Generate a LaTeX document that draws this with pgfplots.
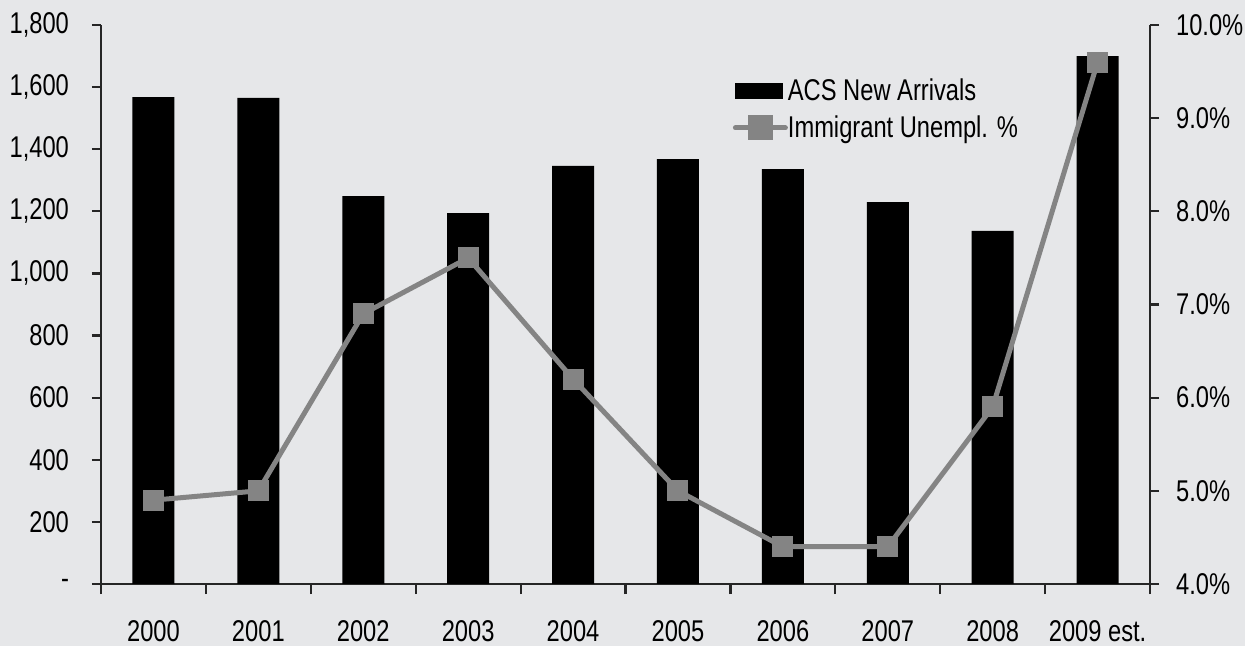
\documentclass[border=0pt]{standalone}
\usepackage{pgfplots}
\pgfplotsset{compat=1.18}
\usepackage{fontspec}
\setmainfont{Liberation Sans}[FakeStretch=0.79]
\definecolor{bg}{HTML}{E6E7E9}
\definecolor{linegray}{HTML}{848484}
\begin{document}
\begin{tikzpicture}
\useasboundingbox (0,0) rectangle (622.5pt,323pt);
\fill[bg] (0,0) rectangle (622.5pt,323pt);
% bars: new arrivals (thousands), left axis
\begin{axis}[
  at={(50.5pt,31pt)}, anchor=south west,
  scale only axis, width=524.5pt, height=279.5pt,
  xmin=-0.5, xmax=9.5, ymin=0, ymax=1800,
  axis x line*=bottom, axis y line*=left,
  axis line style={line width=1.1pt, color=black!85},
  every tick/.style={line width=1.1pt, color=black!85},
  tick align=outside,
  major tick length=4.5pt,
  xtick={0,...,9},
  xticklabels={2000,2001,2002,2003,2004,2005,2006,2007,2008,2009 est.},
  major x tick style={draw=none},
  minor xtick={-0.5,0.5,...,9.5},
  minor tick length=5pt,
  ytick={0,200,...,1800},
  yticklabels={-,200,400,600,800,{1,000},{1,200},{1,400},{1,600},{1,800}},
  ticklabel style={font=\fontsize{15pt}{17pt}\selectfont},
  xticklabel style={yshift=-10pt},
  yticklabel style={xshift=-8pt},
  ybar, bar width=21pt,
]
\addplot[fill=black, draw=none] coordinates {
  (0,1568) (1,1565) (2,1249) (3,1194) (4,1346)
  (5,1368) (6,1336) (7,1230) (8,1137) (9,1700)
};
\end{axis}
% line: immigrant unemployment rate, right axis
\begin{axis}[
  at={(50.5pt,31pt)}, anchor=south west,
  scale only axis, width=524.5pt, height=279.5pt,
  xmin=-0.5, xmax=9.5, ymin=4, ymax=10,
  axis x line=none, axis y line*=right,
  axis line style={line width=1.1pt, color=black!85},
  every tick/.style={line width=1.1pt, color=black!85},
  tick align=outside, major tick length=4.5pt,
  ytick={4,5,...,10},
  yticklabels={4.0\%,5.0\%,6.0\%,7.0\%,8.0\%,9.0\%,10.0\%},
  ticklabel style={font=\fontsize{15pt}{17pt}\selectfont},
  yticklabel style={xshift=5pt},
  legend style={draw=none, fill=none, at={(0.602,0.908)}, anchor=north west,
    font=\fontsize{15pt}{17pt}\selectfont, row sep=4pt,
    inner sep=0pt, nodes={inner ysep=1pt, inner xsep=0pt}},
  legend cell align=left,
]
\addlegendimage{legend image code/.code={
  \fill[black] (0pt,-3.8pt) rectangle (23.5pt,3.8pt);}}
\addlegendentry{ACS New Arrivals}
\addplot[color=linegray, line width=2.5pt, mark=square*,
  mark size=4pt, mark options={fill=linegray, draw=none},
  legend image code/.code={
    \draw[linegray, line width=2.5pt, line cap=round] (0pt,0pt) -- (25pt,0pt);
    \fill[linegray] (7.5pt,-5pt) rectangle (17.5pt,5pt);}]
  coordinates {
  (0,4.9) (1,5.0) (2,6.9) (3,7.5) (4,6.2)
  (5,5.0) (6,4.4) (7,4.4) (8,5.9) (9,9.6)
};
\addlegendentry{Immigrant Unempl. \%}
\end{axis}
\end{tikzpicture}
\end{document}
